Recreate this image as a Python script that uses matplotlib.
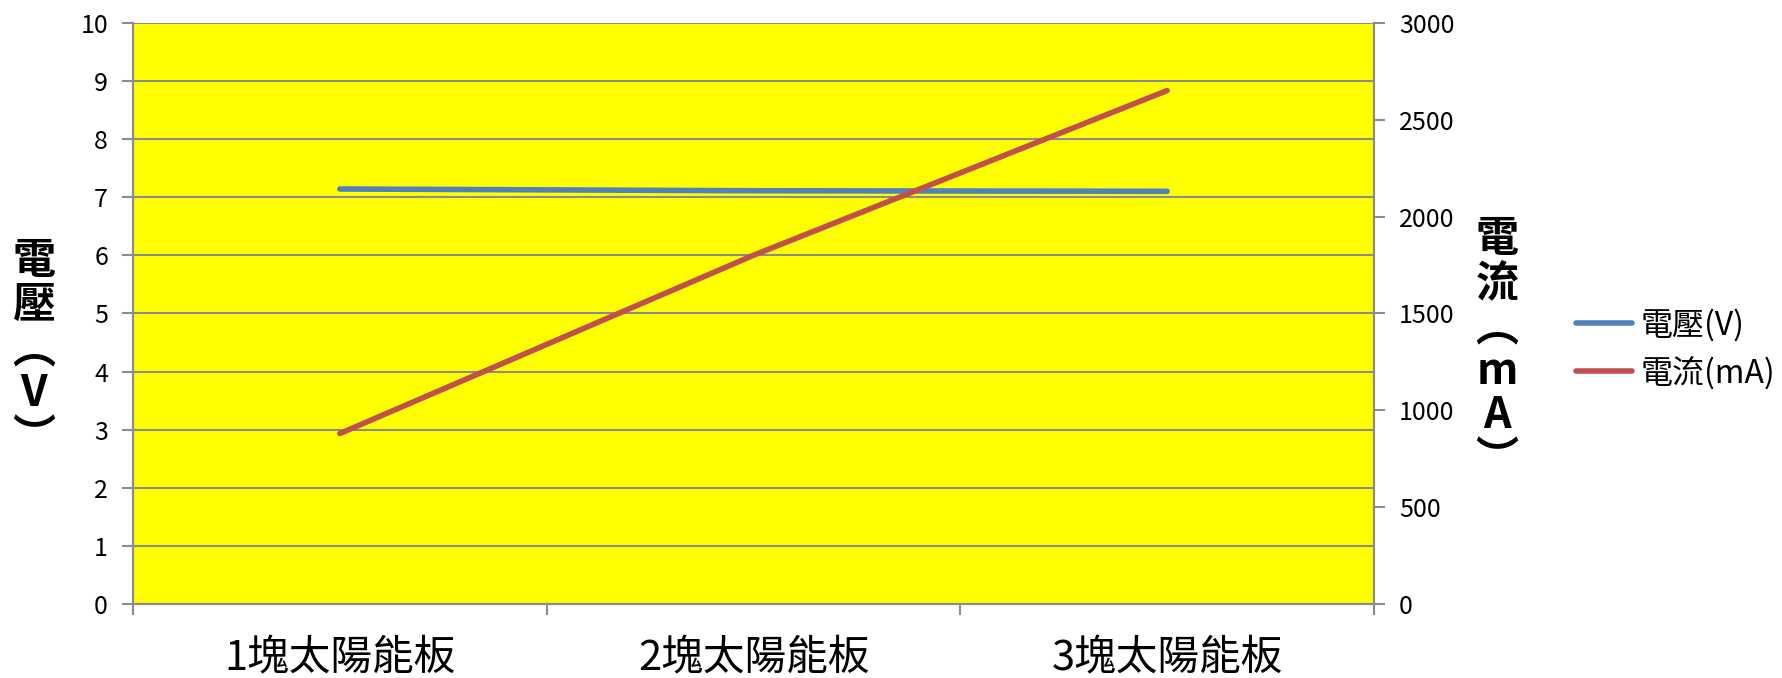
import matplotlib.pyplot as plt
from matplotlib.ticker import FixedLocator

plt.rcParams['font.family'] = ['Noto Sans CJK TC', 'DejaVu Sans']

categories = ['1塊太陽能板', '2塊太陽能板', '3塊太陽能板']
voltage = [7.14, 7.11, 7.10]
current = [880, 1800, 2650]

grid_c = '#8c8c8c'

fig = plt.figure(figsize=(17.83, 6.78), dpi=100)
ax = fig.add_axes([0.0746, 0.109, 0.696, 0.8575])
ax2 = ax.twinx()

ax.set_facecolor('#ffff00')
ax.set_zorder(ax2.get_zorder() - 1)
ax2.patch.set_visible(False)

x = list(range(len(categories)))
lv, = ax.plot(x, voltage, color='#4f81bd', lw=4, solid_capstyle='round', label='電壓(V)', zorder=3)
lc, = ax2.plot(x, current, color='#c0504d', lw=4, solid_capstyle='round', label='電流(mA)', zorder=3)

ax.set_xlim(-0.5, 2.5)
ax.set_ylim(0, 10)
ax2.set_ylim(0, 3000)

ax.set_yticks(range(0, 11))
ax2.set_yticks(range(0, 3001, 500))
ax.grid(axis='y', color=grid_c, lw=1.5)
ax.set_axisbelow(True)

ax.set_xticks(x)
ax.set_xticklabels(categories, fontsize=30)
ax.xaxis.set_minor_locator(FixedLocator([-0.5, 0.5, 1.5, 2.5]))
ax.tick_params(axis='x', which='major', length=0, pad=24)
ax.tick_params(axis='x', which='minor', length=8, color=grid_c, width=1.5)
ax.tick_params(axis='y', length=8, color=grid_c, width=1.5, labelsize=18, pad=10)
ax2.tick_params(axis='y', length=8, color=grid_c, width=1.5, labelsize=18, pad=10)

for a in (ax, ax2):
    for s in a.spines.values():
        s.set_color(grid_c)
        s.set_linewidth(1.5)
    a.spines['top'].set_visible(False)

fig.text(0.019, 0.485, '電\n壓\n︵\nV\n︶', fontsize=31, fontweight='bold',
         ha='center', va='center', linespacing=1.0)
fig.text(0.8395, 0.485, '電\n流\n︵\nm\nA\n︶', fontsize=31, fontweight='bold',
         ha='center', va='center', linespacing=1.0)

fig.legend(handles=[lv, lc], loc='center left', bbox_to_anchor=(0.868, 0.485),
           frameon=False, fontsize=23, handlelength=1.75, handletextpad=0.25,
           labelspacing=0.45)

fig.savefig('out.png', dpi=100, facecolor='white')
